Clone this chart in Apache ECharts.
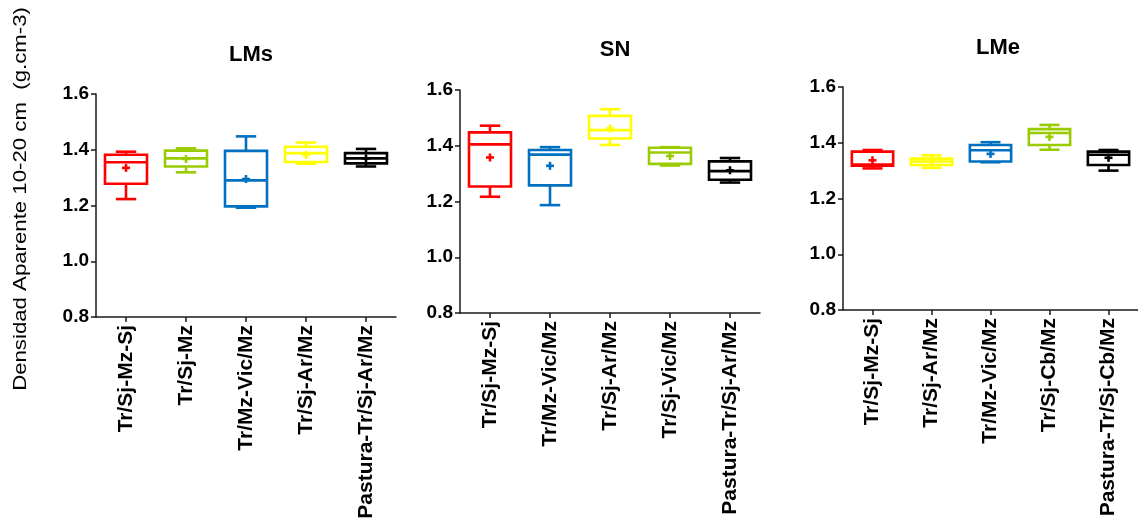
<!DOCTYPE html>
<html>
<head>
<meta charset="utf-8">
<script src="https://cdn.jsdelivr.net/npm/echarts@6/dist/echarts.min.js"></script>
<style>
  html, body { margin: 0; padding: 0; background: #fff; }
  #chart { width: 1138px; height: 530px; }
</style>
</head>
<body>
<div id="chart"></div>
<script>
// Bulk density (10-20 cm) by rotation, three sites

const panelTitles = ['LMs', 'SN', 'LMe'];

const catsLMs = ['Tr/Sj-Mz-Sj', 'Tr/Sj-Mz', 'Tr/Mz-Vic/Mz', 'Tr/Sj-Ar/Mz', 'Pastura-Tr/Sj-Ar/Mz'];
const catsSN  = ['Tr/Sj-Mz-Sj', 'Tr/Mz-Vic/Mz', 'Tr/Sj-Ar/Mz', 'Tr/Sj-Vic/Mz', 'Pastura-Tr/Sj-Ar/Mz'];
const catsLMe = ['Tr/Sj-Mz-Sj', 'Tr/Sj-Ar/Mz', 'Tr/Mz-Vic/Mz', 'Tr/Sj-Cb/Mz', 'Pastura-Tr/Sj-Cb/Mz'];

// [min, Q1, median, Q3, max]
const boxLMs = [
  [1.223, 1.278, 1.355, 1.382, 1.393],
  [1.319, 1.340, 1.369, 1.397, 1.405],
  [1.192, 1.197, 1.290, 1.396, 1.448],
  [1.350, 1.356, 1.388, 1.411, 1.426],
  [1.340, 1.351, 1.369, 1.388, 1.403]
];
const boxSN = [
  [1.217, 1.254, 1.405, 1.448, 1.472],
  [1.187, 1.258, 1.368, 1.385, 1.395],
  [1.403, 1.426, 1.456, 1.507, 1.531],
  [1.329, 1.335, 1.376, 1.393, 1.395],
  [1.268, 1.278, 1.309, 1.344, 1.356]
];
const boxLMe = [
  [1.308, 1.318, 1.322, 1.368, 1.374],
  [1.310, 1.320, 1.333, 1.343, 1.355],
  [1.330, 1.333, 1.373, 1.392, 1.402],
  [1.375, 1.392, 1.435, 1.449, 1.464],
  [1.300, 1.320, 1.357, 1.368, 1.374]
];

// means (drawn as "+")
const meanLMs = [1.335, 1.367, 1.295, 1.381, 1.369];
const meanSN  = [1.358, 1.328, 1.462, 1.363, 1.312];
const meanLMe = [1.337, 1.335, 1.360, 1.421, 1.346];

const yTickValues = [0.8, 1.0, 1.2, 1.4, 1.6];

// colours
const RED = '#FF0000', GREEN = '#99CC00', BLUE = '#0070C0', YELLOW = '#FFFF00', BLACK = '#000000';
const colorsLMs = [RED, GREEN, BLUE, YELLOW, BLACK];
const colorsSN  = [RED, BLUE, YELLOW, GREEN, BLACK];
const colorsLMe = [RED, YELLOW, BLUE, GREEN, BLACK];

const panels = [
  { cats: catsLMs, box: boxLMs, mean: meanLMs, colors: colorsLMs },
  { cats: catsSN,  box: boxSN,  mean: meanSN,  colors: colorsSN },
  { cats: catsLMe, box: boxLMe, mean: meanLMe, colors: colorsLMe }
];

// layout
const gridBoxes = [
  { left: 96,  top: 94, width: 300, height: 223 },
  { left: 460, top: 90, width: 300, height: 223 },
  { left: 843, top: 87, width: 300, height: 223 }
];
const titleTops = [39, 34, 32];

const FONT = "'Liberation Sans', Arial, sans-serif";
const AXIS_COLOR = '#1a1a1a';

function makeRenderItem(colors) {
  return function (params, api) {
    const idx = api.value(0);
    const color = colors[params.dataIndex];
    const band = api.size([1, 0])[0];
    const boxW = band * 0.70;
    const capW = band * 0.34;
    const pMin = api.coord([idx, api.value(1)]);
    const pQ1  = api.coord([idx, api.value(2)]);
    const pMed = api.coord([idx, api.value(3)]);
    const pQ3  = api.coord([idx, api.value(4)]);
    const pMax = api.coord([idx, api.value(5)]);
    const pMean = api.coord([idx, api.value(6)]);
    const cx = pMed[0];
    const lw = 2.6;
    const st = { stroke: color, lineWidth: lw, fill: null };
    const line = (x1, y1, x2, y2) => ({
      type: 'line', shape: { x1, y1, x2, y2 }, style: st
    });
    const arm = 4;
    return {
      type: 'group',
      children: [
        line(cx, pQ3[1], cx, pMax[1]),
        line(cx, pQ1[1], cx, pMin[1]),
        line(cx - capW / 2, pMax[1], cx + capW / 2, pMax[1]),
        line(cx - capW / 2, pMin[1], cx + capW / 2, pMin[1]),
        {
          type: 'rect',
          shape: { x: cx - boxW / 2, y: pQ3[1], width: boxW, height: pQ1[1] - pQ3[1] },
          style: { stroke: color, lineWidth: lw, fill: 'none' }
        },
        line(cx - boxW / 2, pMed[1], cx + boxW / 2, pMed[1]),
        line(pMean[0] - arm, pMean[1], pMean[0] + arm, pMean[1]),
        line(pMean[0], pMean[1] - arm, pMean[0], pMean[1] + arm)
      ]
    };
  };
}

const option = {
  backgroundColor: '#ffffff',
  animation: false,
  title: panelTitles.map((t, i) => ({
    text: t,
    left: gridBoxes[i].left + gridBoxes[i].width / 2,
    top: titleTops[i],
    textAlign: 'center',
    textStyle: { fontFamily: FONT, fontSize: 22, fontWeight: 'bold', color: '#000' }
  })),
  grid: gridBoxes.map(g => Object.assign({ containLabel: false }, g)),
  xAxis: panels.map((p, i) => ({
    type: 'category',
    gridIndex: i,
    data: p.cats,
    boundaryGap: true,
    axisLine: { show: true, lineStyle: { color: AXIS_COLOR, width: 1.5 } },
    axisTick: { show: true, alignWithLabel: true, length: 5, lineStyle: { color: AXIS_COLOR, width: 1.5 } },
    axisLabel: {
      rotate: 90, margin: 8, interval: 0,
      fontFamily: FONT, fontSize: 21, fontWeight: 'bold', color: '#000'
    },
    splitLine: { show: false }
  })),
  yAxis: panels.map((p, i) => ({
    type: 'value',
    gridIndex: i,
    min: yTickValues[0],
    max: yTickValues[yTickValues.length - 1],
    interval: 0.2,
    axisLine: { show: true, lineStyle: { color: AXIS_COLOR, width: 1.5 } },
    axisTick: { show: true, length: 5, lineStyle: { color: AXIS_COLOR, width: 1.5 } },
    axisLabel: {
      margin: 7,
      fontFamily: FONT, fontSize: 19, fontWeight: 'bold', color: '#000',
      formatter: v => v.toFixed(1)
    },
    splitLine: { show: false }
  })),
  graphic: [{
    type: 'text',
    x: 21,
    y: 199,
    rotation: Math.PI / 2,
    scaleX: 1.2,
    style: {
      text: 'Densidad Aparente 10-20 cm  (g.cm-3)',
      fontFamily: FONT,
      fontSize: 18.5,
      fill: '#000',
      textAlign: 'center',
      textVerticalAlign: 'middle'
    }
  }],
  series: panels.map((p, i) => ({
    type: 'custom',
    xAxisIndex: i,
    yAxisIndex: i,
    renderItem: makeRenderItem(p.colors),
    encode: { x: 0, y: [1, 2, 3, 4, 5, 6] },
    data: p.box.map((b, k) => [k, b[0], b[1], b[2], b[3], b[4], p.mean[k]]),
    clip: false
  }))
};

const chart = echarts.init(document.getElementById('chart'), null, { renderer: 'canvas' });
chart.setOption(option);
</script>
</body>
</html>
